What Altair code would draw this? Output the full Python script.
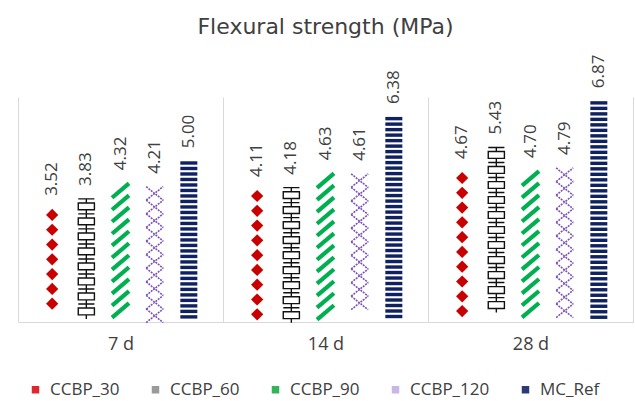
import altair as alt
import pandas as pd

# ---- data ----
ages = ["7 d", "14 d", "28 d"]
mixes = ["CCBP_30", "CCBP_60", "CCBP_90", "CCBP_120", "MC_Ref"]
ccbp30 = [3.52, 4.11, 4.67]
ccbp60 = [3.83, 4.18, 5.43]
ccbp90 = [4.32, 4.63, 4.70]
ccbp120 = [4.21, 4.61, 4.79]
mcref = [5.00, 6.38, 6.87]
legend_colors = ["#e0282c", "#9a9a9a", "#35b35a", "#c8b6e4", "#2c3b78"]

rows = []
for mix, vals in zip(mixes, [ccbp30, ccbp60, ccbp90, ccbp120, mcref]):
    for age, v in zip(ages, vals):
        rows.append({"age": age, "mix": mix, "value": v})
df = pd.DataFrame(rows)

W, H = 615, 225
YMAX = 7
FONT = "Open Sans"
GRID = "#d9d9d9"
TXT = "#404040"

x_enc = alt.X(
    "age:N",
    sort=ages,
    scale=alt.Scale(domain=ages, paddingInner=0, paddingOuter=0),
    axis=alt.Axis(
        title=None, labelAngle=0, ticks=False, tickSize=0, grid=True,
        tickBand="extent", gridColor=GRID, gridWidth=1, domainColor=GRID,
        domainWidth=1, labelFont=FONT, labelFontSize=18, labelColor=TXT,
        labelPadding=13,
    ),
)
xo_enc = alt.XOffset(
    "mix:N", sort=mixes,
    scale=alt.Scale(domain=mixes, paddingInner=0.5, paddingOuter=0.75),
)
y_scale = alt.Scale(domain=[0, YMAX], nice=False, zero=True)
y_axis = alt.Axis(
    orient="right", title=None, labels=False, ticks=False, grid=False,
    domain=True, domainColor=GRID, domainWidth=1,
)

# legend carrier: zero-height bars
legend_layer = alt.Chart(df).mark_bar(strokeWidth=0).encode(
    x=x_enc,
    xOffset=xo_enc,
    y=alt.Y("value:Q", scale=y_scale, axis=y_axis),
    y2=alt.Y2("value:Q"),
    color=alt.Color(
        "mix:N",
        sort=mixes,
        scale=alt.Scale(domain=mixes, range=legend_colors),
        legend=alt.Legend(
            title=None, orient="none", legendX=9, legendY=284,
            direction="horizontal", columns=5, symbolType="square",
            symbolSize=56, symbolStrokeWidth=0, labelFont=FONT,
            labelFontSize=17, labelColor=TXT, labelOffset=6,
            columnPadding=27, padding=0,
        ),
    ),
)


def pattern(mix, step, top, bottom, shape, size, color, filled, sw, dash=None):
    # pattern tiles anchored at the bar top, repeated downwards to the base
    base = (
        alt.Chart(df)
        .transform_filter(alt.datum.mix == mix)
        .transform_calculate(idx="sequence(0, 60)")
        .transform_flatten(["idx"])
        .transform_calculate(pos=f"datum.value - {top} - datum.idx * {step}")
        .transform_filter(f"datum.pos >= {bottom}")
    )
    kw = dict(shape=shape, size=size, filled=filled, opacity=1, color=color)
    if filled:
        kw["strokeWidth"] = 0
    else:
        kw["strokeWidth"] = sw
        if dash:
            kw["strokeDash"] = dash
    return base.mark_point(**kw).encode(
        x=x_enc,
        xOffset=xo_enc,
        y=alt.Y("pos:Q", scale=y_scale, axis=y_axis),
    )


p30 = pattern("CCBP_30", 0.46, 0.19, 0.15, "diamond", 150, "#c80000", True, 0)
p60 = pattern(
    "CCBP_60", 0.467, 0.233, 0.2,
    "M-0.95,-0.88H0.95M0,-0.88V-0.4M-0.95,-0.4H0.95V0.4H-0.95ZM0,0.4V0.88",
    289, "#111111", False, 1.4,
)
p90 = pattern("CCBP_90", 0.373, 0.23, 0.2, "M-1,0.85L1,-0.85", 289, "#00b050", False, 4.2)
p120 = pattern(
    "CCBP_120", 0.423, 0.21, 0.18, "M-1,-0.8L1,0.8M-1,0.8L1,-0.8", 289,
    "#7b52b9", False, 1.6, [2, 1],
)
pmc = pattern("MC_Ref", 0.171, 0.053, 0.04, "M-1,-0.2H1V0.2H-1Z", 289, "#0f2160", True, 0)

labels = alt.Chart(df).mark_text(
    angle=270, align="left", baseline="middle", dx=13,
    font=FONT, fontSize=17, color=TXT,
).encode(
    x=x_enc,
    xOffset=xo_enc,
    y=alt.Y("value:Q", scale=y_scale, axis=y_axis),
    text=alt.Text("value:Q", format=".2f"),
)

chart = (
    alt.layer(legend_layer, p30, p60, p90, p120, pmc, labels)
    .properties(
        width=W,
        height=H,
        padding={"left": 18, "top": 97, "right": 2, "bottom": 79},
        autosize=alt.AutoSizeParams(type="none"),
        title=alt.TitleParams(
            text="Flexural strength (MPa)", font="DejaVu Sans", fontSize=22,
            fontWeight="normal", color="#404040", anchor="middle", offset=16,
        ),
    )
    .configure_view(stroke=None)
)

chart.save("out.html", embed_options={"renderer": "svg", "actions": False})
